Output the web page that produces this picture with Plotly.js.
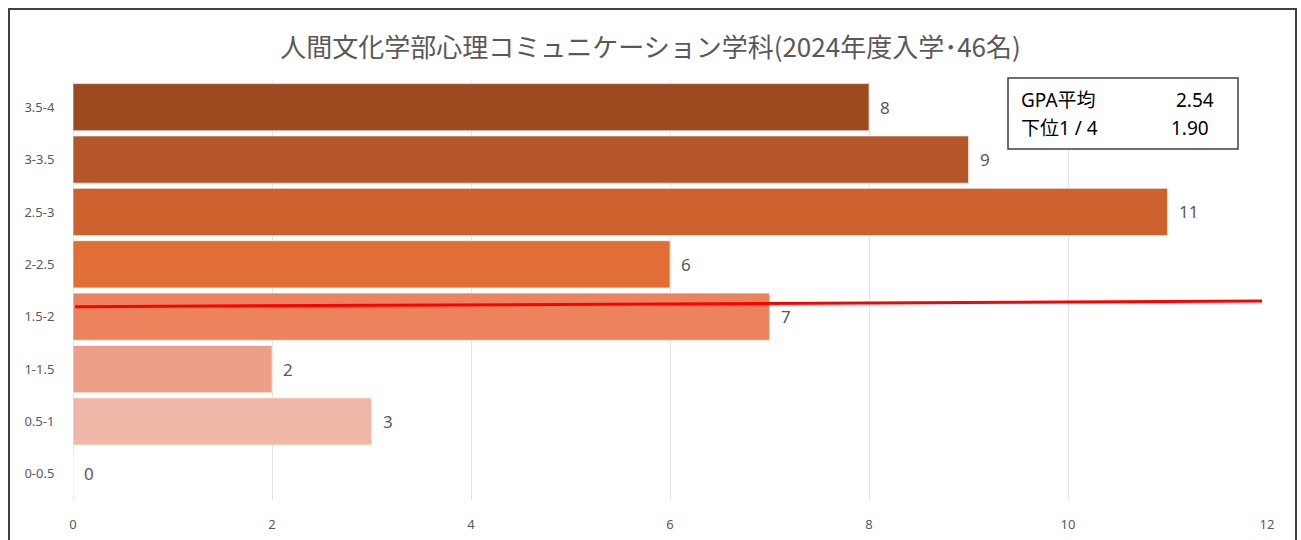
<!DOCTYPE html>
<html>
<head>
<meta charset="utf-8">
<script src="https://cdn.plot.ly/plotly-3.0.1.min.js"></script>
<style>html,body{margin:0;padding:0;background:#fff;}#chart{width:1301px;height:540px;}</style>
</head>
<body>
<div id="chart"></div>
<script>
const categories = ["0-0.5", "0.5-1", "1-1.5", "1.5-2", "2-2.5", "2.5-3", "3-3.5", "3.5-4"];
const counts = [0, 3, 2, 7, 6, 11, 9, 8];
const barColors = ["#F0B7A8", "#F0B7A8", "#EC9F88", "#EC835C", "#E06E35", "#CD622E", "#B5552A", "#9C4A1F"];
const xTicks = [0, 2, 4, 6, 8, 10, 12];
const titleText = "人間文化学部心理コミュニケーション学科(2024年度入学･46名)";
const statLabels = ["GPA平均", "下位1 / 4"];
const statValues = ["2.54", "1.90"];
const quartileLineX = [0.02, 11.95];
const quartileLineY = [3.19, 3.30];

const W = 1301, H = 540;
const L = 73, R = 34, T = 81, B = 40;
const pw = W - L - R, ph = H - T - B;
const px = x => (x - L) / pw;
const py = y => (H - B - y) / ph;

const traces = [
  {
    type: "bar",
    orientation: "h",
    y: categories,
    x: counts,
    marker: {color: barColors, line: {color: "rgba(255,255,255,0.6)", width: 1}},
    hoverinfo: "none"
  },
  {
    type: "scatter",
    mode: "lines",
    x: quartileLineX,
    y: quartileLineY,
    yaxis: "y2",
    line: {color: "#FF0000", width: 3},
    hoverinfo: "none"
  }
];

const valueLabels = counts.map((v, i) => ({
  xref: "x", yref: "y", x: v, y: categories[i],
  xanchor: "left", yanchor: "middle", xshift: 9, yshift: 0,
  text: String(v), showarrow: false,
  font: {family: "Noto Sans, sans-serif", size: 17, color: "#595959"}
}));

const statFont = {family: "Noto Sans, Noto Sans CJK JP, sans-serif", size: 19, color: "#000000"};
const statRows = [100, 127.5];
const statAnnotations = [];
statLabels.forEach((lab, i) => {
  statAnnotations.push({xref: "paper", yref: "paper", x: px(1019), y: py(statRows[i]),
    xanchor: "left", yanchor: "middle", text: lab, showarrow: false, font: statFont});
  statAnnotations.push({xref: "paper", yref: "paper", x: px(i === 0 ? 1216 : 1211), y: py(statRows[i]),
    xanchor: "right", yanchor: "middle", text: statValues[i], showarrow: false, font: statFont});
});

const layout = {
  width: W, height: H,
  margin: {l: L, r: R, t: T, b: B},
  paper_bgcolor: "#ffffff",
  plot_bgcolor: "#ffffff",
  showlegend: false,
  bargap: 0.1,
  font: {family: "Noto Sans CJK JP, Noto Sans, sans-serif", color: "#595959"},
  title: {
    text: titleText,
    font: {family: "Noto Sans CJK JP, sans-serif", size: 26, color: "#595959"},
    x: 0.5, xanchor: "center", y: 1 - 48 / H, yanchor: "middle"
  },
  xaxis: {
    range: [0, 12],
    tickvals: xTicks,
    ticktext: xTicks.map(String),
    showgrid: true, gridcolor: "#E3E3E3", gridwidth: 1,
    zeroline: true, zerolinecolor: "#E3E3E3", zerolinewidth: 1,
    showline: false,
    ticks: "outside", ticklen: 12, tickcolor: "rgba(0,0,0,0)",
    tickfont: {family: "Noto Sans, sans-serif", size: 13, color: "#595959"},
    fixedrange: true
  },
  yaxis: {
    type: "category",
    categoryorder: "array",
    categoryarray: categories,
    range: [-0.5, 7.5],
    showgrid: false, zeroline: false, showline: false,
    ticks: "outside", ticklen: 15, tickcolor: "rgba(0,0,0,0)",
    tickfont: {family: "Noto Sans, sans-serif", size: 13, color: "#595959"},
    fixedrange: true
  },
  yaxis2: {
    overlaying: "y",
    range: [-0.5, 7.5],
    visible: false,
    fixedrange: true
  },
  shapes: [
    {type: "rect", xref: "paper", yref: "paper",
     x0: px(9), x1: px(1296), y0: py(560), y1: py(9),
     line: {color: "#404040", width: 2}, fillcolor: "rgba(0,0,0,0)", layer: "above"},
    {type: "rect", xref: "paper", yref: "paper",
     x0: px(1008), x1: px(1238), y0: py(149), y1: py(78),
     line: {color: "#404040", width: 1.5}, fillcolor: "#ffffff", layer: "above"}
  ],
  annotations: valueLabels.concat(statAnnotations)
};

Plotly.newPlot("chart", traces, layout, {displayModeBar: false, staticPlot: true});
</script>
</body>
</html>
